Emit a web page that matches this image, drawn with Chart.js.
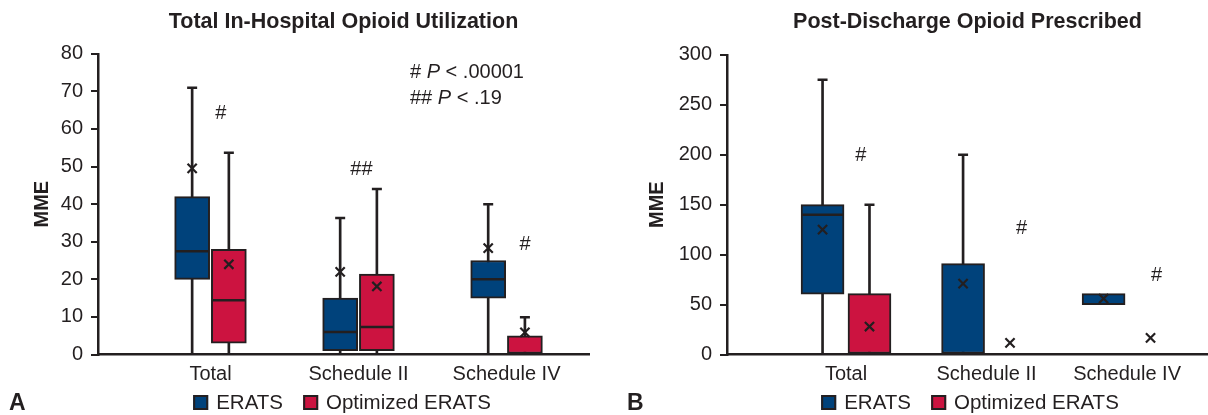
<!DOCTYPE html>
<html>
<head>
<meta charset="utf-8">
<title>Opioid utilization</title>
<script src="https://cdn.jsdelivr.net/npm/chart.js@4.4.1/dist/chart.umd.min.js"></script>
<style>
    body { margin: 0; background: #fff; }
    #wrap { position: relative; width: 1208px; height: 415px; font-family: "Liberation Sans", Arial, sans-serif; color: #231f20; }
    #leftChart { position: absolute; left: 0; top: 0; }
    #rightChart { position: absolute; left: 600px; top: 0; }
    .panel { position: absolute; font-size: 23px; line-height: 24px; font-weight: bold; }
    #pNote { position: absolute; left: 410px; top: 58px; font-size: 20px; line-height: 26px; }
    .legend { position: absolute; top: 391px; display: flex; transform: translateX(-50%); font-size: 20.5px; line-height: 22px; white-space: nowrap; }
    .legend .item { display: flex; align-items: center; margin: 0 10px; }
    .legend .box { width: 15px; height: 15px; box-sizing: border-box; border: 2px solid #231f20; margin-right: 8px; }
</style>
</head>
<body>
<div id="wrap">
    <canvas id="leftChart" width="600" height="415"></canvas>
    <canvas id="rightChart" width="608" height="415"></canvas>
    <div id="pNote"># <i>P</i> &lt; .00001<br>## <i>P</i> &lt; .19</div>
    <div class="legend" id="leftLegend" style="left:342px"></div>
    <div class="legend" id="rightLegend" style="left:970px"></div>
    <div class="panel" style="left:9px;top:390px">A</div>
    <div class="panel" style="left:627px;top:390px">B</div>
</div>
<script>
const categories = ['Total', 'Schedule II', 'Schedule IV'];

// A - total in-hospital opioid utilization (MME)
const inHospTicks = [0, 10, 20, 30, 40, 50, 60, 70, 80];
const inHospEratsMin = [0, 0, 0];
const inHospEratsQ1 = [20, 1, 15];
const inHospEratsMedian = [27.5, 6, 20];
const inHospEratsQ3 = [42, 15, 25];
const inHospEratsMax = [71, 36.3, 40];
const inHospEratsMean = [49.5, 22, 28.3];
const inHospOptMin = [0, 0, 0];
const inHospOptQ1 = [3, 1, 0];
const inHospOptMedian = [14.4, 7.3, null];
const inHospOptQ3 = [28, 21.4, 5];
const inHospOptMax = [53.7, 44, 9.9];
const inHospOptMean = [24, 18.1, 5.9];
const inHospSigText = ['#', '##', '#'];
const inHospSigY = [64, 49.2, 29.4];

// B - post-discharge opioid prescribed (MME)
const dischargeTicks = [0, 50, 100, 150, 200, 250, 300];
const dischargeEratsMin = [0, 0, null];
const dischargeEratsQ1 = [60.5, 0, 50];
const dischargeEratsMedian = [140, null, null];
const dischargeEratsQ3 = [150, 91, 61];
const dischargeEratsMax = [275, 200, null];
const dischargeEratsMean = [125, 71, 56];
const dischargeOptMin = [0, null, null];
const dischargeOptQ1 = [0, null, null];
const dischargeOptMedian = [null, null, null];
const dischargeOptQ3 = [61, null, null];
const dischargeOptMax = [150, null, null];
const dischargeOptMean = [28, 11.6, 16.6];
const dischargeSigText = ['#', '#', '#'];
const dischargeSigY = [199, 126, 79];

const DARK = '#231f20';
const BLUE = '#00427b';
const RED = '#cc1340';
const FONT = '"Liberation Sans", Arial, Helvetica, sans-serif';

Chart.defaults.font.family = FONT;
Chart.defaults.color = DARK;

// draws the # / ## marks at category + shift, value from the y scale
const sigMarks = {
    id: 'sigMarks',
    afterDatasetsDraw: function (chart, args, opts) {
        let ctx = chart.ctx;
        let xs = chart.scales.x;
        let ys = chart.scales.y;
        ctx.save();
        ctx.font = '20px ' + FONT;
        ctx.fillStyle = DARK;
        ctx.textAlign = 'center';
        ctx.textBaseline = 'middle';
        for (let i = 0; i < opts.text.length; i++) {
            ctx.fillText(opts.text[i], xs.getPixelForValue(i + 1 + opts.shift[i]), ys.getPixelForValue(opts.y[i]));
        }
        ctx.restore();
    }
};

const BoxCharts = {
    init: function () {
        BoxCharts.inHospitalChart();
        BoxCharts.dischargeChart();
    },
    points: function (arr, shift) {
        let out = [];
        for (let i = 0; i < arr.length; i++) {
            if (arr[i] !== null) out.push({x: i + 1 + shift, y: arr[i]});
        }
        return out;
    },
    ranges: function (lo, hi, shift) {
        let out = [];
        for (let i = 0; i < lo.length; i++) {
            if (lo[i] !== null && hi[i] !== null) out.push({x: i + 1 + shift, y: [lo[i], hi[i]]});
        }
        return out;
    },
    series: function (label, color, s, shift, box) {
        return [{
            type: 'bar',
            label: label,
            data: BoxCharts.ranges(s.q1, s.q3, shift),
            backgroundColor: color,
            borderColor: DARK,
            borderWidth: 2,
            borderSkipped: false,
            barThickness: box,
            grouped: false,
            inLegend: true,
            order: 1
        }, {
            type: 'bar',
            label: 'whisker',
            data: BoxCharts.ranges(s.min, s.max, shift),
            backgroundColor: DARK,
            borderWidth: 0,
            barThickness: 2,
            grouped: false,
            order: 2
        }, {
            type: 'scatter',
            label: 'cap',
            data: BoxCharts.points(s.max, shift).concat(BoxCharts.points(s.min, shift)),
            pointStyle: 'line',
            pointRadius: 5,
            pointBorderColor: DARK,
            pointBorderWidth: 2.5,
            order: 0
        }, {
            type: 'scatter',
            label: 'median',
            data: BoxCharts.points(s.median, shift),
            pointStyle: 'line',
            pointRadius: box / 2 - 1,
            pointBorderColor: DARK,
            pointBorderWidth: 2.5,
            order: 0
        }, {
            type: 'scatter',
            label: 'mean',
            data: BoxCharts.points(s.mean, shift),
            pointStyle: 'crossRot',
            pointRadius: 6.5,
            pointBorderColor: DARK,
            pointBorderWidth: 2.2,
            order: 0
        }];
    },
    legend: function (chart, id) {
        let el = document.getElementById(id);
        chart.data.datasets.forEach(function (ds) {
            if (!ds.inLegend) return;
            let item = document.createElement('span');
            item.className = 'item';
            let box = document.createElement('span');
            box.className = 'box';
            box.style.background = ds.backgroundColor;
            item.appendChild(box);
            item.appendChild(document.createTextNode(ds.label));
            el.appendChild(item);
        });
    },
    options: function (cfg) {
        return {
            responsive: false,
            animation: false,
            events: [],
            layout: {autoPadding: false, padding: {left: 0, right: cfg.padRight, top: 0, bottom: 27.5}},
            plugins: {
                title: {
                    display: true,
                    text: cfg.title,
                    fullSize: false,
                    color: DARK,
                    font: {size: 21.5, weight: 'bold'},
                    padding: {top: 9, bottom: cfg.titleGap}
                },
                legend: {display: false},
                tooltip: {enabled: false},
                sigMarks: {text: cfg.sigText, y: cfg.sigY, shift: cfg.sigShift}
            },
            scales: {
                x: {
                    type: 'linear',
                    min: cfg.xMin,
                    max: cfg.xMax,
                    offset: false,
                    grid: {display: false, drawTicks: false},
                    border: {display: true, color: DARK, width: 2.5},
                    afterBuildTicks: function (scale) {
                        scale.ticks = categories.map(function (c, i) { return {value: i + 1}; });
                    },
                    afterFit: function (scale) {
                        scale.height = 33;
                        scale.paddingLeft = 0;
                        scale.paddingRight = 0;
                    },
                    ticks: {
                        padding: 8,
                        color: DARK,
                        font: {size: 20},
                        callback: function (v) { return categories[v - 1]; }
                    }
                },
                y: {
                    min: 0,
                    max: cfg.ticks[cfg.ticks.length - 1],
                    afterBuildTicks: function (scale) {
                        scale.ticks = cfg.ticks.map(function (v) { return {value: v}; });
                    },
                    afterFit: function (scale) { scale.width = cfg.yWidth; },
                    grid: {drawOnChartArea: false, drawTicks: true, tickLength: 7, color: DARK, lineWidth: 2},
                    border: {display: true, color: DARK, width: 2.5},
                    ticks: {padding: 8, color: DARK, font: {size: 20}},
                    title: {
                        display: true,
                        text: 'MME',
                        color: DARK,
                        font: {size: 20, weight: 'bold'},
                        padding: {top: cfg.yTitlePad}
                    }
                }
            }
        };
    },
    inHospitalChart: function () {
        let erats = {min: inHospEratsMin, q1: inHospEratsQ1, median: inHospEratsMedian, q3: inHospEratsQ3, max: inHospEratsMax, mean: inHospEratsMean};
        let opt = {min: inHospOptMin, q1: inHospOptQ1, median: inHospOptMedian, q3: inHospOptQ3, max: inHospOptMax, mean: inHospOptMean};
        let datasets = BoxCharts.series('ERATS', BLUE, erats, -0.124, 35)
            .concat(BoxCharts.series('Optimized ERATS', RED, opt, 0.124, 35));
        let chart = new Chart(document.getElementById('leftChart'), {
            type: 'bar',
            data: {datasets: datasets},
            options: BoxCharts.options({
                title: 'Total In-Hospital Opioid Utilization',
                padRight: 11, titleGap: 19, xMin: 0.24, xMax: 3.557,
                ticks: inHospTicks, yWidth: 98, yTitlePad: 30,
                sigText: inHospSigText, sigY: inHospSigY, sigShift: [0.07, 0.02, 0.125]
            }),
            plugins: [sigMarks]
        });
        BoxCharts.legend(chart, 'leftLegend');
    },
    dischargeChart: function () {
        let erats = {min: dischargeEratsMin, q1: dischargeEratsQ1, median: dischargeEratsMedian, q3: dischargeEratsQ3, max: dischargeEratsMax, mean: dischargeEratsMean};
        let opt = {min: dischargeOptMin, q1: dischargeOptQ1, median: dischargeOptMedian, q3: dischargeOptQ3, max: dischargeOptMax, mean: dischargeOptMean};
        let datasets = BoxCharts.series('ERATS', BLUE, erats, -0.167, 43)
            .concat(BoxCharts.series('Optimized ERATS', RED, opt, 0.167, 43));
        let chart = new Chart(document.getElementById('rightChart'), {
            type: 'bar',
            data: {datasets: datasets},
            options: BoxCharts.options({
                title: 'Post-Discharge Opioid Prescribed',
                padRight: 0, titleGap: 20, xMin: 0.153, xMax: 3.576,
                ticks: dischargeTicks, yWidth: 127, yTitlePad: 45,
                sigText: dischargeSigText, sigY: dischargeSigY, sigShift: [0.105, 0.25, 0.21]
            }),
            plugins: [sigMarks]
        });
        BoxCharts.legend(chart, 'rightLegend');
    }
};

BoxCharts.init();
</script>
</body>
</html>
